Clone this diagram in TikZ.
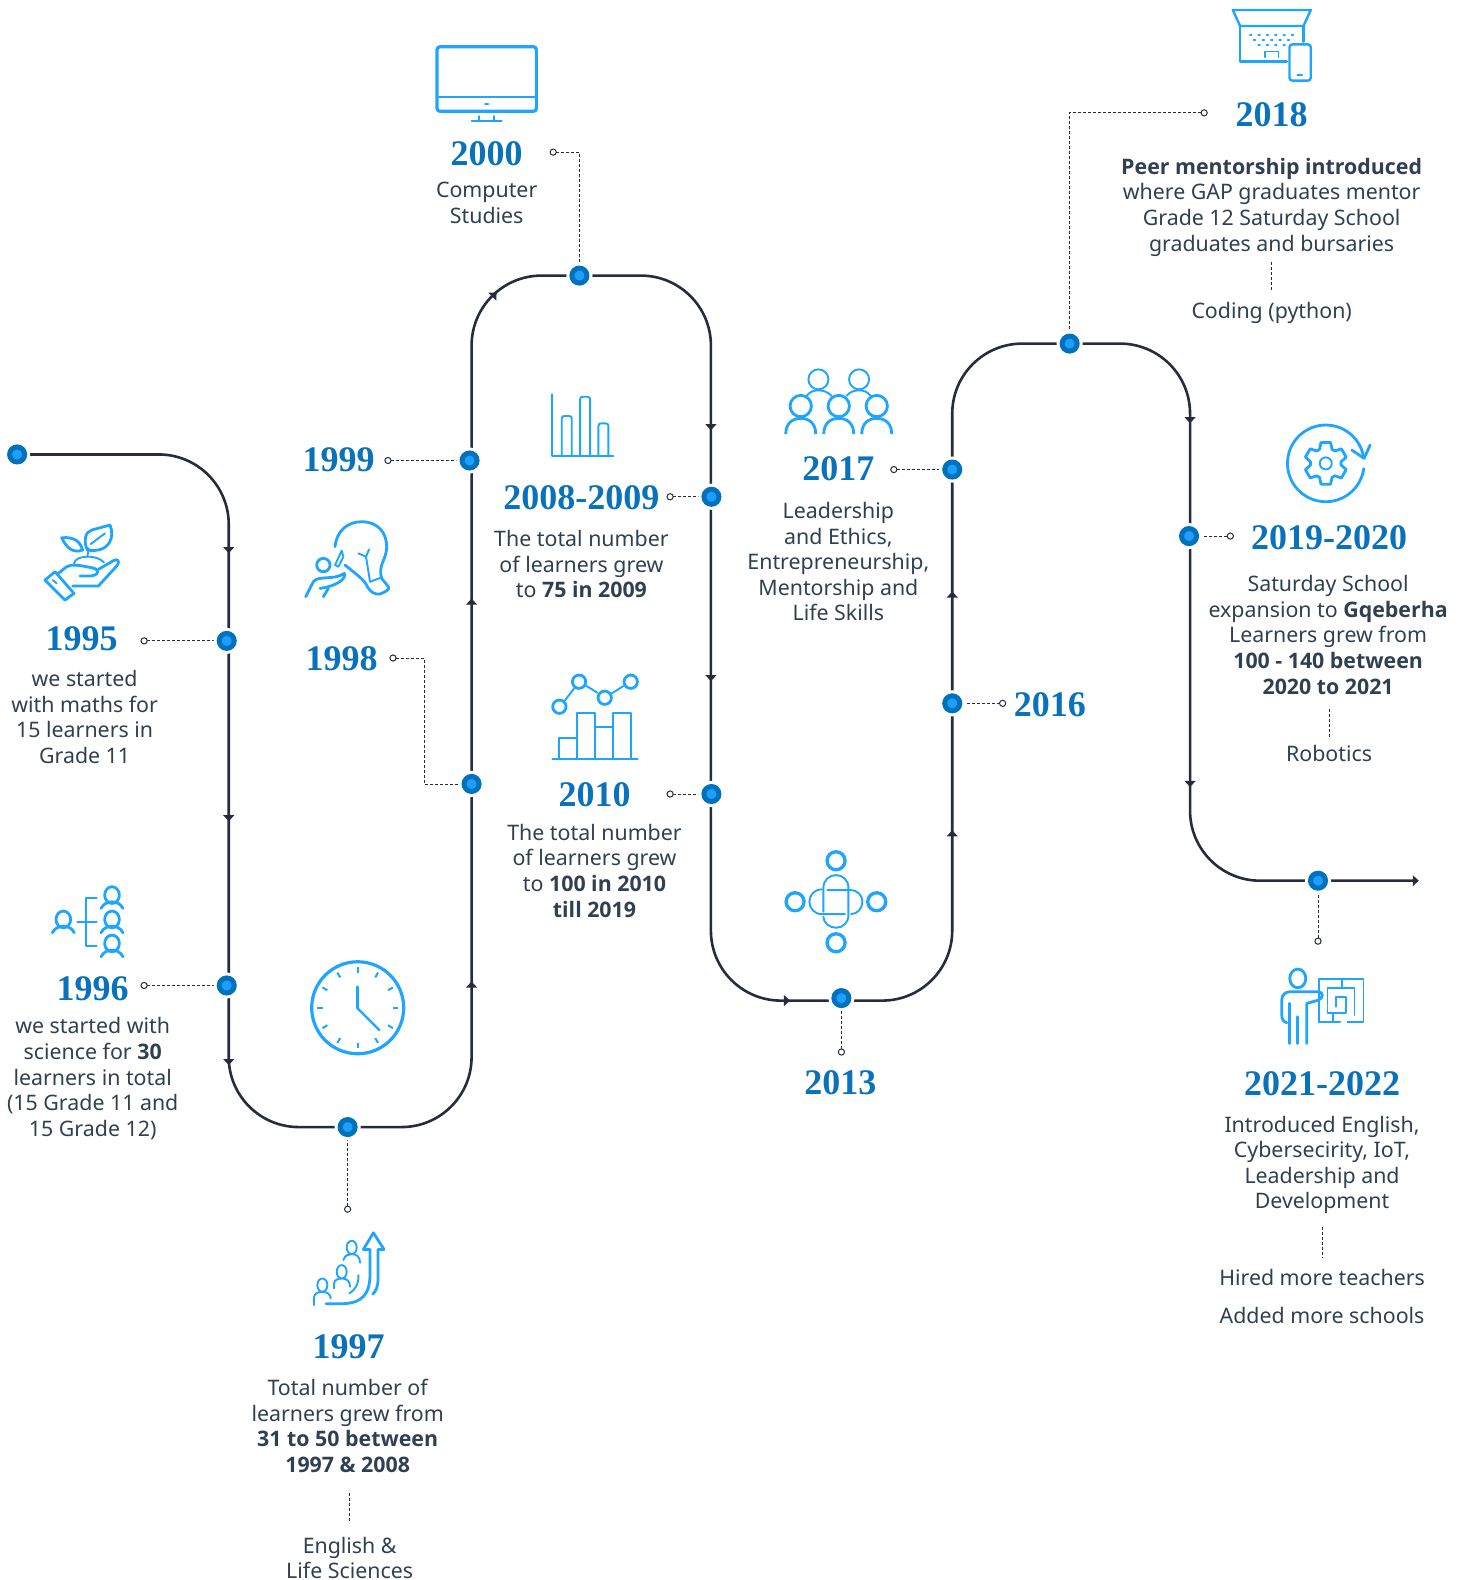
\documentclass[tikz,border=0pt]{standalone}
\usepackage{fontspec}
\setmainfont{Noto Sans}[BoldFont={Open Sans Bold}]
\newfontfamily\yearfamily{Liberation Serif}
\usetikzlibrary{backgrounds}
\definecolor{navy}{HTML}{252C3E}
\definecolor{dotdark}{HTML}{0072BC}
\definecolor{dotlight}{HTML}{1E9FFF}
\definecolor{yearblue}{HTML}{0A72BA}
\definecolor{bodyslate}{HTML}{2F4050}
\definecolor{iconblue}{HTML}{1FA5FF}
\tikzset{
  zoomat/.style 2 args={shift={(#1pt,-#2pt)},x=0.33333pt,y=-0.33333pt},
  dot/.style={circle,inner sep=0pt,outer sep=0pt,minimum size=15pt,fill=dotlight,draw=dotdark,line width=5pt,preaction={draw=white,line width=11pt}},
  ring/.style={circle,inner sep=0pt,outer sep=0pt,minimum size=6.2pt,fill=white,draw=navy,line width=1pt},
  mainline/.style={draw=navy,line width=2.6pt,rounded corners=70pt},
  leader/.style={draw=navy,line width=.8pt,dash pattern=on 3pt off 2pt},
  year/.style={font=\yearfamily\bfseries\fontsize{36}{36}\selectfont,text=yearblue,inner sep=0pt},
  body/.style={font=\fontsize{21.35}{25.6}\selectfont,text=bodyslate,align=center,inner sep=0pt},
  icon/.style={draw=iconblue,line width=2.8pt,line cap=round,line join=round},
  iconthin/.style={draw=iconblue,line width=1.9pt,line cap=round,line join=round},
  tip/.pic={\fill[navy] (-5.5,-2) -- (5.5,-2) -- (0,4) -- cycle;}
}
\newcommand{\personicon}[2]{%
  \draw[icon] (#1,#2) ellipse (22 and 25);
  \draw[icon] (#1-33,#2+40) .. controls (#1-25,#2+25) and (#1-15,#2+22) .. (#1,#2+20) .. controls (#1+15,#2+22) and (#1+25,#2+25) .. (#1+33,#2+40);
}
\begin{document}
\begin{tikzpicture}[x=1.00757pt,y=-1.00757pt]
\useasboundingbox (0,0) rectangle (1454,1568);

% timeline stations
\node[dot] (d0) at (17,451) {};
\node[dot] (d95) at (225,636) {};
\node[dot] (d96) at (225,978) {};
\node[dot] (d97) at (345,1118.5) {};
\node[dot] (d99) at (466,457) {};
\node[dot] (d98) at (468,778) {};
\node[dot] (d00) at (575,273.5) {};
\node[dot] (d08) at (706,493) {};
\node[dot] (d10) at (706,788) {};
\node[dot] (d13) at (835,990.5) {};
\node[dot] (d17) at (945,466) {};
\node[dot] (d16) at (945,698) {};
\node[dot] (d18) at (1061.5,341) {};
\node[dot] (d19) at (1180,532) {};
\node[dot] (d21) at (1308,874) {};

% leader rings
\node[ring] (r95) at (143,636) {};
\node[ring] (r96) at (143,978) {};
\node[ring] (r97) at (345,1200) {};
\node[ring] (r98) at (390,653) {};
\node[ring] (r99) at (385,457) {};
\node[ring] (r00) at (549,151) {};
\node[ring] (r08) at (665,493) {};
\node[ring] (r10) at (665,788) {};
\node[ring] (r13) at (835,1044) {};
\node[ring] (r16) at (995,698) {};
\node[ring] (r17) at (887,466) {};
\node[ring] (r18) at (1195,112) {};
\node[ring] (r19) at (1221,532) {};
\node[ring] (r21) at (1308,934) {};

\coordinate (c1) at (227,451);
\coordinate (c2) at (227,1118.5);
\coordinate (c3) at (468,1118.5);
\coordinate (c4) at (468,273.5);
\coordinate (c5) at (705.5,273.5);
\coordinate (c6) at (705.5,993);
\coordinate (c7) at (945,993);
\coordinate (c8) at (945,341);
\coordinate (c9) at (1181,341);
\coordinate (c10) at (1181,874);
\coordinate (endpt) at (1403,874);
\coordinate (k98a) at (421,653);
\coordinate (k98b) at (421,778);

\begin{scope}[on background layer]
\draw[mainline] (d0.center) -- (c1) -- (c2) -- (c3) -- (c4) -- (c5) -- (c6) -- (c7) -- (c8) -- (c9) -- (c10) -- (endpt);
\draw[leader] (r95) -- (d95);
\draw[leader] (r96) -- (d96);
\draw[leader] (r97) -- (d97);
\draw[leader] (r98) -- (k98a) -- (k98b) -- (d98);
\draw[leader] (r99) -- (d99);
\draw[leader] (r00) -| (d00);
\draw[leader] (r08) -- (d08);
\draw[leader] (r10) -- (d10);
\draw[leader] (r13) -- (d13);
\draw[leader] (r16) -- (d16);
\draw[leader] (r17) -- (d17);
\draw[leader] (r18) -| (d18);
\draw[leader] (r19) -- (d19);
\draw[leader] (r21) -- (d21);
\end{scope}

% arrow tips on the line
\pic at (227,545) {tip};
\pic at (227,811) {tip};
\pic at (227,1053) {tip};
\pic[rotate=180] at (468,978) {tip};
\pic[rotate=180] at (468,598) {tip};
\pic[rotate=135] at (490,293) {tip};
\pic at (705.5,423) {tip};
\pic at (705.5,672) {tip};
\pic[rotate=90] at (780,993) {tip};
\pic[rotate=180] at (945,828) {tip};
\pic[rotate=180] at (945,591) {tip};
\pic at (1181,416) {tip};
\pic at (1181,777) {tip};
\pic[rotate=90] at (1404,874) {tip};

% short separators
\coordinate (s18a) at (1262,260); \coordinate (s18b) at (1262,288);
\coordinate (s19a) at (1319,704); \coordinate (s19b) at (1319,732);
\coordinate (s21a) at (1312,1218); \coordinate (s21b) at (1312,1248);
\coordinate (s97a) at (347,1482); \coordinate (s97b) at (347,1510);
\draw[leader] (s18a) -- (s18b);
\draw[leader] (s19a) -- (s19b);
\draw[leader] (s21a) -- (s21b);
\draw[leader] (s97a) -- (s97b);

% years
\node[year] (y95) at (81,634) {1995};
\node[year] (y96) at (92,981) {1996};
\node[year] (y97) at (346,1337) {1997};
\node[year] (y98) at (339,654) {1998};
\node[year] (y99) at (336,456.5) {1999};
\node[year] (y00) at (483,153) {2000};
\node[year] (y08) at (577,494) {2008-2009};
\node[year] (y10) at (590,789) {2010};
\node[year] (y13) at (834,1074) {2013};
\node[year] (y16) at (1042,699.5) {2016};
\node[year] (y17) at (832,465.5) {2017};
\node[year] (y18) at (1262,114) {2018};
\node[year] (y19) at (1319,534) {2019-2020};
\node[year] (y21) at (1312,1075) {2021-2022};

% texts
\node[body] (t95) at (84,711.5) {we started\\with maths for\\15 learners in\\Grade 11};
\node[body] (t96) at (92,1070.5) {we started with\\science for \textbf{30}\\learners in total\\(15 Grade 11 and\\15 Grade 12)};
\node[body] (t97) at (345,1415) {Total number of\\learners grew from\\\textbf{31 to 50 between}\\\textbf{1997 \& 2008}};
\node[body] (t97b) at (347,1546) {English \&\\Life Sciences};
\node[body] (t00) at (483,201.5) {Computer\\Studies};
\node[body] (t08) at (577,560) {The total number\\of learners grew\\to \textbf{75 in 2009}};
\node[body] (t10) at (590,864) {The total number\\of learners grew\\to \textbf{100 in 2010}\\\textbf{till 2019}};
\node[body] (t17) at (832,557.5) {Leadership\\and Ethics,\\Entrepreneurship,\\Mentorship and\\Life Skills};
\node[body] (t18) at (1262,205.5) {\textbf{Peer mentorship introduced}\\where GAP graduates mentor\\Grade 12 Saturday School\\graduates and bursaries};
\node[body] (t18b) at (1262,311) {Coding (python)};
\node[body] (t19) at (1318,630) {Saturday School\\expansion to \textbf{Gqeberha}\\Learners grew from\\\textbf{100 - 140 between}\\\textbf{2020 to 2021}};
\node[body] (t19b) at (1319,748) {Robotics};
\node[body] (t21) at (1312,1156) {Introduced English,\\Cybersecirity, IoT,\\Leadership and\\Development};
\node[body] (t21b) at (1312,1268) {Hired more teachers};
\node[body] (t21c) at (1312,1305) {Added more schools};

% icon: hand and plant
\begin{scope}[zoomat={0}{430}]
\draw[icon] (135,450) -- (165,425) -- (222,490) -- (195,510) -- cycle;
\draw[iconthin] (158,450) -- (170,460);
\draw[icon] (172,432) -- (200,410) .. controls (215,402) and (235,405) .. (270,412) .. controls (300,415) and (300,436) .. (270,438) -- (240,438);
\draw[icon] (295,418) -- (340,392) .. controls (352,385) and (362,392) .. (350,408) -- (295,468) -- (218,468);
\draw[iconthin] (222,400) .. controls (225,385) and (245,380) .. (262,380) .. controls (285,380) and (300,385) .. (312,397);
\draw[iconthin] (262,380) .. controls (264,370) and (265,365) .. (266,355);
\draw[icon] (262,360) .. controls (250,335) and (255,305) .. (275,300) -- (330,285) .. controls (345,320) and (330,370) .. (262,360);
\draw[iconthin] (272,342) -- (315,310);
\draw[icon] (185,323) .. controls (225,320) and (240,335) .. (248,360) .. controls (220,370) and (200,355) .. (185,323) -- cycle;
\end{scope}

% icon: person with team
\begin{scope}[zoomat={30}{860}]
\personicon{100}{178}
\personicon{246}{105}
\personicon{246}{178}
\personicon{246}{250}
\draw[iconthin] (200,113) -- (168,113) -- (168,258) -- (200,258);
\draw[iconthin] (142,185) -- (200,185);
% clock
\draw[draw=iconblue,line width=3.2pt] (983,443) circle (138);
\foreach \a in {0,30,...,330}{\draw[iconthin,line width=2pt,line cap=butt] (983,443)++(\a:105) -- ++(\a:17);}
\draw[icon,line width=3pt] (983,380) -- (983,445);
\draw[iconthin,line width=2.2pt] (983,445) -- (1048,510);
\end{scope}

% icon: growing group
\begin{scope}[zoomat={290}{1190}]
\draw[iconthin] (185,172) ellipse (15 and 20);
\draw[iconthin] (160,210) .. controls (165,195) and (175,192) .. (185,192) .. controls (200,192) and (210,200) .. (210,218);
\draw[iconthin] (155,245) ellipse (15 and 20);
\draw[iconthin] (132,295) -- (132,280) .. controls (132,270) and (145,265) .. (155,265) .. controls (170,265) and (180,272) .. (180,290);
\draw[iconthin] (97,285) ellipse (15 and 20);
\draw[iconthin] (72,345) -- (72,322) .. controls (72,310) and (85,305) .. (97,305) .. controls (110,305) and (122,312) .. (122,325);
\draw[icon] (108,341) -- (150,341) .. controls (220,341) and (240,310) .. (240,250) -- (240,178) -- (220,178) -- (250,128) -- (282,178) -- (264,178) -- (264,265) .. controls (264,290) and (258,303) .. (248,312);
\draw[iconthin] (205,255) .. controls (207,280) and (195,300) .. (178,310);
\end{scope}

% icon: bulb and bar chart
\begin{scope}[zoomat={290}{390}]
\draw[icon] (135,470) .. controls (140,420) and (175,395) .. (215,395) .. controls (265,395) and (290,430) .. (290,470) .. controls (290,510) and (262,525) .. (275,565) -- (295,590) .. controls (300,600) and (285,605) .. (270,612) .. controls (255,615) and (240,605) .. (232,590) .. controls (225,570) and (195,550) .. (165,525);
\draw[iconthin] (240,575) -- (275,562);
\draw[iconthin] (240,575) -- (228,500) -- (205,490);
\draw[iconthin] (228,500) -- (237,478);
\draw[icon] (100,525) circle (20);
\draw[icon] (47,620) -- (70,575) .. controls (85,555) and (130,572) .. (163,550) .. controls (170,570) and (130,590) .. (90,595);
\draw[icon] (115,595) -- (100,620);
\draw[iconthin] (135,525) -- (155,482) -- (160,500) -- (145,530) -- cycle;
\draw[iconthin,line width=2pt] (785,13) -- (785,198) -- (970,198);
\draw[iconthin] (815,198) -- (815,85) .. controls (815,78) and (820,78) .. (825,78) -- (838,78) .. controls (845,78) and (845,82) .. (845,88) -- (845,198);
\draw[iconthin] (870,198) -- (870,28) .. controls (870,20) and (875,20) .. (880,20) -- (892,20) .. controls (900,20) and (900,24) .. (900,30) -- (900,198);
\draw[iconthin] (925,198) -- (925,108) .. controls (925,100) and (930,100) .. (935,100) -- (947,100) .. controls (955,100) and (955,104) .. (955,110) -- (955,198);
\end{scope}

% icon: monitor
\begin{scope}[zoomat={420}{30}]
\draw[draw=iconblue,line width=3.2pt,rounded corners=3pt] (51,50) rectangle (349,244);
\draw[iconthin,line width=2pt,line cap=butt] (50,202) -- (350,202);
\draw[iconthin] (195,221) -- (204,221);
\draw[iconthin] (177,258) -- (177,272);
\draw[iconthin] (222,258) -- (222,272);
\draw[iconthin] (155,273) -- (245,273);
\end{scope}

% icon: chart 2010
\begin{scope}[zoomat={530}{660}]
\draw[icon] (88,140) circle (20);
\draw[icon] (147,65) circle (20);
\draw[icon] (224,113) circle (20);
\draw[icon] (302,65) circle (20);
\draw[iconthin] (104,122) -- (132,85);
\draw[iconthin] (168,77) -- (202,98);
\draw[iconthin] (245,100) -- (280,78);
\draw[iconthin] (67,297) -- (323,297);
\draw[iconthin] (87,297) -- (87,233) -- (141,233);
\draw[iconthin] (141,297) -- (141,158) -- (195,158) -- (195,297);
\draw[iconthin] (195,200) -- (249,200);
\draw[iconthin] (249,297) -- (249,158) -- (303,158) -- (303,297);
\end{scope}

% icon: group 2017
\begin{scope}[zoomat={770}{360}]
\draw[iconthin] (145,58) circle (30);
\draw[iconthin] (267,58) circle (30);
\draw[iconthin] (110,107) .. controls (120,95) and (130,91) .. (145,91) .. controls (160,91) and (172,95) .. (185,108);
\draw[iconthin] (230,107) .. controls (240,95) and (252,91) .. (267,91) .. controls (282,91) and (292,95) .. (302,108);
\foreach \p in {92,206,320}{
  \draw[icon,line cap=butt] (\p,138) circle (32);
  \draw[icon,line cap=butt] (\p-45,222) .. controls (\p-45,190) and (\p-25,175) .. (\p,175) .. controls (\p+25,175) and (\p+45,190) .. (\p+45,222);
}
\end{scope}

% icon: knot 2013
\begin{scope}[zoomat={770}{840}]
\draw[draw=iconblue,line width=3.3pt] (198,62) circle (27);
\draw[draw=iconblue,line width=3.3pt] (75,185) circle (27);
\draw[draw=iconblue,line width=3.3pt] (320,185) circle (27);
\draw[draw=iconblue,line width=3.3pt] (198,308) circle (27);
\draw[iconthin] (160,215) -- (160,143) .. controls (160,120) and (178,105) .. (198,105) .. controls (218,105) and (235,120) .. (235,143) -- (235,226) .. controls (235,248) and (218,263) .. (198,263) .. controls (178,263) and (160,248) .. (160,230);
\draw[iconthin] (155,148) .. controls (133,148) and (118,165) .. (118,185) .. controls (118,205) and (133,222) .. (155,222) -- (225,222);
\draw[iconthin] (172,150) -- (240,150) .. controls (262,150) and (277,165) .. (277,185) .. controls (277,205) and (262,222) .. (243,222);
\end{scope}

% icon: laptop and phone
\begin{scope}[zoomat={1220}{0}]
\draw[iconthin,line width=2.4pt] (38,30) -- (272,30) -- (250,78) -- (60,78) -- cycle;
\draw[iconthin,line width=2.4pt] (60,78) -- (60,185) -- (200,185);
\draw[iconthin,line width=2.4pt] (250,78) -- (250,125);
\draw[iconthin,line width=1.5pt] (135,172) -- (135,155) -- (175,155) -- (175,172);
\foreach \k in {92,117,142,167,192,217}{\draw[iconthin,line width=1.1pt] (\k-3,105) -- (\k+3,105);}
\foreach \k in {103,130,155,180,205}{\draw[iconthin,line width=1.1pt] (\k-3,120) -- (\k+3,120);}
\foreach \k in {117,142,167,192}{\draw[iconthin,line width=1.1pt] (\k-3,135) -- (\k+3,135);}
\draw[draw=iconblue,line width=2.4pt,rounded corners=3pt] (208,133) rectangle (272,242);
\draw[iconthin] (232,225) -- (246,225);
\end{scope}

% icon: gear
\begin{scope}[zoomat={1270}{415}]
\draw[icon] plot[domain=8:350,samples=70,smooth] ({167+115*cos(\x)},{145+115*sin(\x)});
\draw[icon] (245,105) -- (282,130) -- (300,90);
\draw[iconthin] (167,145) circle (18);
\begin{scope}[shift={(167,145)}]
\foreach \a in {-90,-30,30,90,150,210}{
  \draw[icon] (\a-24:46) -- (\a-13:64) -- (\a+13:64) -- (\a+24:46) -- (\a+36:46);
}
\end{scope}
\end{scope}

% icon: teacher and maze
\begin{scope}[zoomat={1260}{860}]
\draw[icon] (113,355) ellipse (24 and 28);
\draw[icon] (88,550) -- (88,430);
\draw[icon] (113,550) -- (113,470);
\draw[icon] (140,550) -- (140,430) -- (175,420) .. controls (190,415) and (190,395) .. (175,395) -- (90,395) .. controls (75,395) and (65,405) .. (65,420) -- (65,465) .. controls (65,478) and (70,485) .. (80,488);
\draw[iconthin] (177,487) -- (177,358) -- (310,358) -- (310,487) -- (262,487);
\draw[iconthin] (240,487) -- (177,487);
\draw[iconthin] (245,358) -- (245,383);
\draw[iconthin] (202,435) -- (202,383) -- (283,383) -- (283,465);
\draw[iconthin] (202,440) -- (202,460) -- (258,460) -- (258,410) -- (228,410) -- (228,440);
\draw[iconthin] (218,460) -- (218,487);
\end{scope}
\end{tikzpicture}
\end{document}
